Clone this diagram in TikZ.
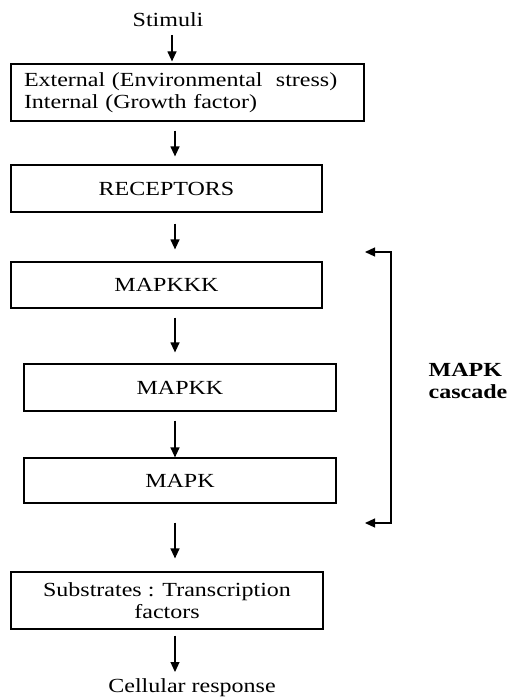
\documentclass[tikz,border=0pt]{standalone}
\usepackage{fontspec}
\setmainfont{Liberation Serif}[FakeStretch=1.2]
\usetikzlibrary{arrows.meta}

\begin{document}
\begin{tikzpicture}[x=1pt, y=-1pt, line width=1.2pt, font=\fontsize{20}{22}\selectfont,
    main/.style = {draw, rectangle, inner sep=0pt, minimum height=46pt},
    flow/.style = {-{Triangle[length=10pt,width=9pt]}, shorten <=9pt, shorten >=8pt}]
    \useasboundingbox (0,0) rectangle (508,698);
    \coordinate (X0) at (172,0);
    \coordinate (X) at (175,0);
    \node (stim) at (168,20) {Stimuli};
    \node[main, minimum width=353pt, minimum height=57pt, text width=327pt, align=left] (ext) at (187.5,92.5) {External (Environmental~~stress)\\Internal (Growth factor)};
    \node[main, minimum width=311pt, minimum height=47pt] (rec) at (166.5,188.5) {RECEPTORS};
    \node[main, minimum width=311pt] (kkk) at (166.5,285) {MAPKKK};
    \node[main, minimum width=312pt, minimum height=47pt] (kk) at (180,387.5) {MAPKK};
    \node[main, minimum width=312pt, minimum height=45pt] (k) at (180,480.5) {MAPK};
    \node[main, minimum width=312pt, minimum height=57pt, align=center] (sub) at (167,600.5) {Substrates : Transcription\\factors};
    \node (resp) at (192,688) {Cellular response};
    \node[anchor=west, inner sep=0pt, align=left, font=\fontsize{20}{22}\selectfont\bfseries] (lab) at (428,381) {MAPK\\cascade};
    \draw[flow, shorten <=4pt, shorten >=2pt] (stim.south -| X0) -- (ext.north -| X0);
    \draw[flow] (ext.south -| X) -- (rec.north -| X);
    \draw[flow, shorten <=11pt, shorten >=12pt] (rec.south -| X) -- (kkk.north -| X);
    \draw[flow, shorten >=11pt] (kkk.south -| X) -- (kk.north -| X);
    \draw[flow, shorten >=0pt] (kk.south -| X) -- (k.north -| X);
    \draw[flow, shorten <=19pt, shorten >=13pt] (k.south -| X) -- (sub.north -| X);
    \draw[flow, shorten <=6pt, shorten >=3pt] (sub.south -| X) -- (resp.north -| X);
    % the cascade bracket
    \coordinate (T) at (365,252);
    \coordinate (B) at (365,523);
    \draw[{Triangle[length=10pt,width=9pt]}-{Triangle[length=10pt,width=9pt]}] (T) -- ++(26,0) |- (B);
\end{tikzpicture}
\end{document}
